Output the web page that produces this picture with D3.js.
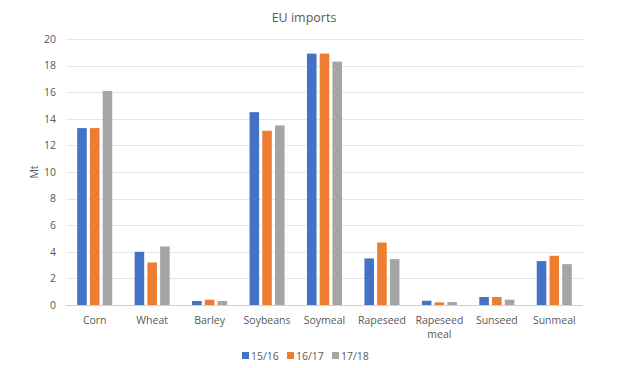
<!DOCTYPE html>
<html><head><meta charset="utf-8">
<script src="https://cdn.jsdelivr.net/npm/d3@7"></script>
<style>body{margin:0;background:#fff}svg{display:block;font-family:"Open Sans","Noto Sans",sans-serif}</style>
</head><body><svg id="c" width="625" height="368"></svg>
<script>
const categories = ["Corn","Wheat","Barley","Soybeans","Soymeal","Rapeseed","Rapeseed\nmeal","Sunseed","Sunmeal"];
const seriesNames = ["15/16","16/17","17/18"];
const s1516 = [13.3, 4.0, 0.3, 14.5, 18.9, 3.5, 0.32, 0.6, 3.3];
const s1617 = [13.3, 3.2, 0.4, 13.1, 18.9, 4.7, 0.2, 0.6, 3.7];
const s1718 = [16.1, 4.4, 0.3, 13.5, 18.3, 3.45, 0.22, 0.4, 3.07];
const yTicks = [0,2,4,6,8,10,12,14,16,18,20];
const colors = ["#4472C4","#ED7D31","#A5A5A5"];
const seriesVals = [s1516, s1617, s1718];

const svg = d3.select("#c");
const m = {l:66, r:42, t:39, b:63};
const W = 625, H = 368;
const x0 = d3.scaleBand().domain(categories).range([m.l, W-m.r]).padding(0);
const bw = x0.bandwidth();
const x1 = d3.scaleBand().domain(seriesNames).range([bw*0.195, bw*0.805]).paddingInner(0.25).paddingOuter(0);
const y = d3.scaleLinear().domain([0,20]).range([H-m.b, m.t]);

// gridlines
svg.append("g").selectAll("line").data(yTicks).join("line")
  .attr("x1", m.l).attr("x2", W-m.r)
  .attr("y1", d=>Math.round(y(d))+0.5).attr("y2", d=>Math.round(y(d))+0.5)
  .attr("stroke", d=> d===0 ? "#d0d0d0" : "#e6e6e6").attr("stroke-width",1);

// y axis labels
const yAxis = d3.axisLeft(y).tickValues(yTicks).tickSize(0).tickPadding(0);
const ya = svg.append("g").attr("transform",`translate(${m.l-10},0)`).call(yAxis);
ya.select(".domain").remove();
ya.selectAll("text").attr("fill","#595959").attr("font-size",10.5).attr("font-family","'Open Sans',sans-serif");

// bars
const g = svg.append("g");
categories.forEach((c,i)=>{
  seriesNames.forEach((s,j)=>{
    const v = seriesVals[j][i];
    g.append("rect")
      .attr("x", x0(c)+x1(s)).attr("width", x1.bandwidth())
      .attr("y", y(v)).attr("height", y(0)-y(v))
      .attr("fill", colors[j]);
  });
});

// x labels
const xl = svg.append("g");
categories.forEach(c=>{
  const lines = c.split("\n");
  const t = xl.append("text").attr("x", x0(c)+bw/2).attr("y", y(0)+19)
    .attr("text-anchor","middle").attr("fill","#595959").attr("font-size",10.5);
  lines.forEach((ln,k)=> t.append("tspan").attr("x", x0(c)+bw/2).attr("dy", k===0?0:14).text(ln));
});

// y title
svg.append("text").attr("transform","translate(38,172) rotate(-90)")
  .attr("text-anchor","middle").attr("fill","#595959").attr("font-size",10.5).text("Mt");

// title
svg.append("text").attr("x",304).attr("y",22).attr("text-anchor","middle")
  .attr("fill","#595959").attr("font-size",12.5).text("EU imports");

// legend
const legX = [242, 287, 332];
const lg = svg.append("g");
seriesNames.forEach((s,j)=>{
  lg.append("rect").attr("x",legX[j]).attr("y",352).attr("width",7).attr("height",7).attr("fill",colors[j]);
  lg.append("text").attr("x",legX[j]+9).attr("y",360).attr("fill","#595959").attr("font-size",10.5).text(s);
});
</script></body></html>
